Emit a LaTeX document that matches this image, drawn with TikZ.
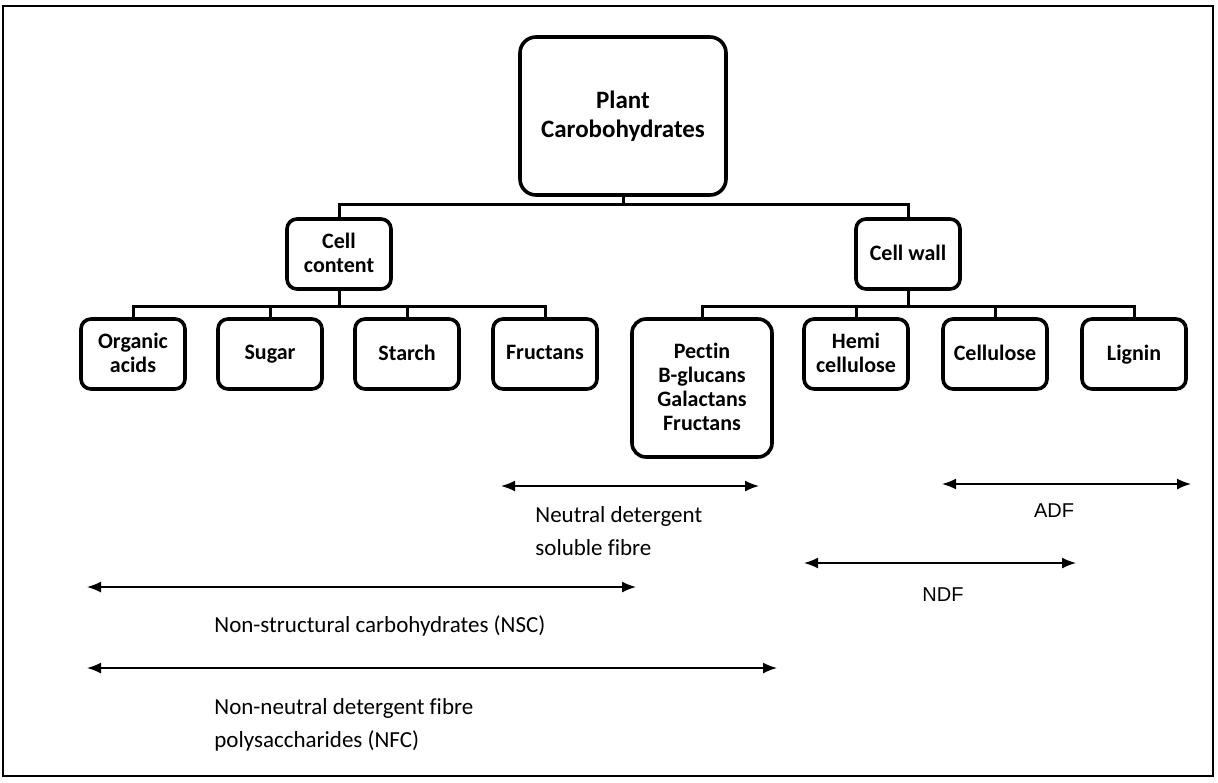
\documentclass[tikz,border=0pt]{standalone}
\usepackage{fontspec}
\setmainfont{Carlito}[Ligatures=NoCommon]
\newfontfamily\arialfont{Liberation Sans}
\usepackage{tikz}
\usetikzlibrary{arrows.meta,positioning}

\begin{document}
\begin{tikzpicture}[
  x=0.5pt,y=-0.5pt,
  box/.style={draw,line width=1.8pt,rounded corners=5pt,align=center,inner sep=0pt,text depth=0.3ex,minimum width=52pt,minimum height=35pt,font=\bfseries\fontsize{11}{12}\selectfont},
  link/.style={line width=1.5pt},
  span/.style={{Latex[length=7pt,width=5.5pt]}-{Latex[length=7pt,width=5.5pt]},line width=0.8pt},
  lbl/.style={align=left,anchor=base west,inner sep=0pt,font=\fontsize{11.5}{16.5}\selectfont},
  abbr/.style={anchor=base,inner sep=0pt,font=\arialfont\fontsize{10}{12}\selectfont},
]
\useasboundingbox (0,0) rectangle (1218,782);
\draw[line width=0.9pt] (3,6) rectangle (1213,776);
\node[box,minimum width=103pt,minimum height=79pt,rounded corners=8pt,font=\bfseries\fontsize{12.5}{14.5}\selectfont] (plant) at (623,116) {Plant\\Carobohydrates};
\node[box] (cc) at (339,254) {Cell\\content};
\node[box] (cw) at (908,254) {Cell wall};
\node[box] (oa) at (133,354) {Organic\\acids};
\node[box] (sugar) at (270,354) {Sugar};
\node[box] (starch) at (407,354) {Starch};
\node[box] (fruc) at (545,354) {Fructans};
\node[box,minimum width=70pt,minimum height=69pt,rounded corners=7pt] (pectin) at (702,388) {Pectin\\B-glucans\\Galactans\\Fructans};
\node[box] (hemi) at (856,354) {Hemi\\cellulose};
\node[box] (cellu) at (995,354) {Cellulose};
\node[box] (lignin) at (1134,354) {Lignin};
\coordinate (bus) at (623,204);
\draw[link] (plant.south) -- (bus) -| (cc.north);
\draw[link] (bus) -| (cw.north);
\foreach \n in {oa,sugar,starch,fruc}
  \draw[link] (cc.south) -- ++(0,16) -| (\n.north);
\foreach \n in {pectin,hemi,cellu,lignin}
  \draw[link] (cw.south) -- ++(0,16) -| (\n.north);
\coordinate (ndsfL) at (501,486); \coordinate (ndsfR) at (759,486);
\coordinate (adfL) at (942,484); \coordinate (adfR) at (1191,484);
\coordinate (ndfL) at (804,563); \coordinate (ndfR) at (1076,563);
\coordinate (nscL) at (87,587); \coordinate (nscR) at (636,587);
\coordinate (nfcL) at (87,668); \coordinate (nfcR) at (777,668);
\draw[span] (ndsfL) -- (ndsfR);
\draw[span] (adfL) -- (adfR);
\draw[span] (ndfL) -- (ndfR);
\draw[span] (nscL) -- (nscR);
\draw[span] (nfcL) -- (nfcR);
\node[lbl] (ndsf) at (535,555) {Neutral detergent\\soluble fibre};
\node[abbr] (adf) at (1054,517) {ADF};
\node[abbr] (ndf) at (943,601) {NDF};
\node[lbl] (nsc) at (214,632) {Non-structural carbohydrates (NSC)};
\node[lbl] (nfc) at (214,747) {Non-neutral detergent fibre\\polysaccharides (NFC)};
\end{tikzpicture}
\end{document}
